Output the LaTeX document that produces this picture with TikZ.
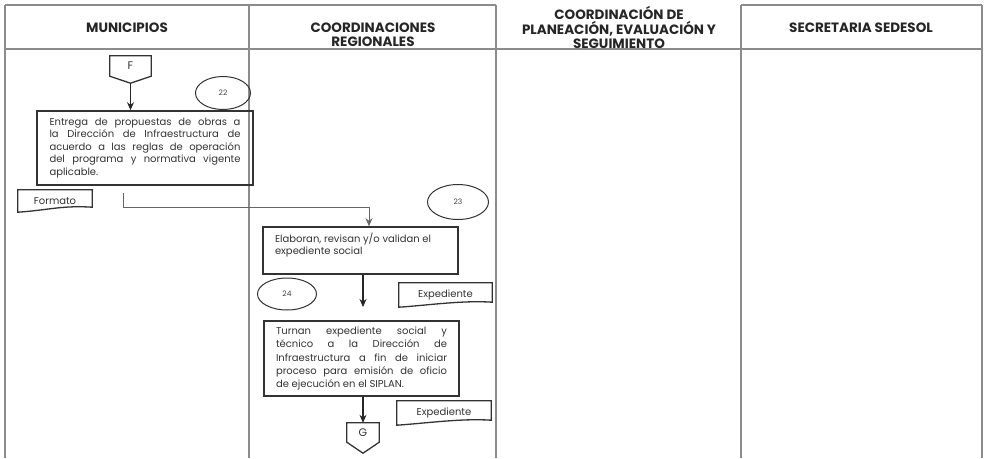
\documentclass[tikz,border=0pt]{standalone}
\usepackage{fontspec}
\setmainfont{Poppins}
\usetikzlibrary{positioning, calc, shapes, arrows.meta}

\begin{document}
\begin{tikzpicture}[x=1pt, y=-1pt, >={Stealth[length=8pt, width=7pt]},
    lane/.style={draw=black!45, line width=1.3pt},
    head/.style={font=\fontsize{13.5}{14.5}\selectfont\bfseries, align=center, text=black!85},
    proc/.style={draw=black!80, line width=1.6pt, font=\fontsize{10}{12.5}\selectfont, text=black!80, inner sep=0pt},
    num/.style={draw=black!80, ellipse, line width=1pt, inner sep=0pt, font=\fontsize{7.5}{8}\selectfont, text=black!75},
    docu/.style={inner sep=0pt, font=\fontsize{10}{12}\selectfont, text=black!80},
    offp/.style={inner sep=0pt, font=\fontsize{11}{12}\selectfont, text=black!80},
    link/.style={->, draw=black!85, line width=1.1pt},
  ]
  \useasboundingbox (0,0) rectangle (987,458);

  %Carriles
  \draw[lane] (5,5) -- (496,5) (741,5) -- (982,5);
  \draw[lane] (5,49) -- (982,49);
  \foreach \x in {5,249,496,741,982}
    \draw[lane] (\x,5) -- (\x,458);

  \node[head] (h1) at (127,28)   {MUNICIPIOS};
  \node[head] (h2) at (373,34.5) {COORDINACIONES\\REGIONALES};
  \node[head] (h3) at (619,27.5) {COORDINACIÓN DE\\PLANEACIÓN, EVALUACIÓN Y\\SEGUIMIENTO};
  \node[head] (h4) at (861,28)   {SECRETARIA SEDESOL};

  %Conectores de página
  \node[offp, minimum width=41pt, minimum height=20pt] (F) at (130.5,66)   {F};
  \node[offp, minimum width=32pt, minimum height=19pt] (G) at (363,432.5)  {G};
  \draw[line width=1.3pt, draw=black!80] (F.north west) -- (F.north east) -- (F.south east) -- ($(F.south)+(0,7)$) -- (F.south west) -- cycle;
  \draw[line width=1.3pt, draw=black!80] (G.north west) -- (G.north east) -- (G.south east) -- ($(G.south)+(0,11)$) -- (G.south west) -- cycle;

  %Actividades
  \node[proc, minimum width=216pt, minimum height=74pt, text width=191pt, align=justify] (a22) at (145,148)
    {Entrega de propuestas de obras a\linebreak la Dirección de Infraestructura de\linebreak acuerdo a las reglas de operación\linebreak del programa y normativa vigente\linebreak aplicable.};
  \node[proc, minimum width=195pt, minimum height=47pt] (a23) at (360.5,250.5)
    {\parbox[t][35pt][t]{171pt}{Elaboran, revisan y/o validan el\\expediente social}};
  \node[proc, minimum width=195pt, minimum height=75pt, text width=171pt, align=justify,
        font=\fontsize{10}{13.25}\selectfont] (a24) at (361.5,358.5)
    {Turnan expediente social y\linebreak técnico a la Dirección de\linebreak Infraestructura a fin de iniciar\linebreak proceso para emisión de oficio\linebreak de ejecución en el SIPLAN.};

  %Numeros
  \node[num, minimum width=55pt, minimum height=33pt] (n22) at (223,93)  {22};
  \node[num, minimum width=61pt, minimum height=35pt] (n23) at (458,202) {23};
  \node[num, minimum width=59pt, minimum height=32pt] (n24) at (287,294) {24};

  %Documentos
  \node[docu, minimum width=74pt, minimum height=17pt] (fmt)  at (55,198.5)    {\raisebox{-6pt}[0pt][0pt]{Formato}};
  \node[docu, minimum width=93pt, minimum height=19pt] (exp1) at (445.5,292.5) {\raisebox{-5pt}[0pt][0pt]{Expediente}};
  \node[docu, minimum width=94pt, minimum height=19pt] (exp2) at (444,410.5)   {\raisebox{-5pt}[0pt][0pt]{Expediente}};
  \foreach \d in {fmt, exp1, exp2}
    \draw[line width=1.3pt, draw=black!80] (\d.north west) -- (\d.north east) -- (\d.south east)
      .. controls +(-30,-2) and +(30,-2) .. ([yshift=-5pt]\d.south west) -- cycle;

  %Flechas
  \coordinate (s22) at (123,193);
  \coordinate (e23) at (363,307);
  \draw[link] ($(F.south)+(0,7)$) -- (F.south |- a22.north);
  \draw[link, draw=black!60, line width=0.9pt] (s22) -- ++(0,14) -| ([xshift=8.5pt]a23.north);
  \draw[link] (e23 |- a23.south) -- (e23);
  \draw[link] (G.north |- a24.south) -- (G.north);
\end{tikzpicture}
\end{document}
